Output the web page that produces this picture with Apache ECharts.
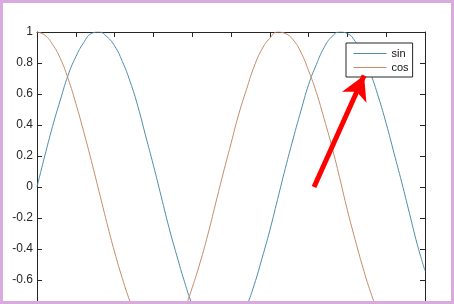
<!DOCTYPE html>
<html>
<head>
<meta charset="utf-8">
<script src="https://cdn.jsdelivr.net/npm/echarts@6/dist/echarts.min.js"></script>
<style>
html,body{margin:0;padding:0;background:#fff;}
#c{width:454px;height:304px;}
</style>
</head>
<body>
<div id="c"></div>
<script>
const xValues = [0,0.2,0.4,0.6,0.8,1,1.2,1.4,1.6,1.8,2,2.2,2.4,2.6,2.8,3,3.2,3.4,3.6,3.8,4,4.2,4.4,4.6,4.8,5,5.2,5.4,5.6,5.8,6,6.2,6.4,6.6,6.8,7,7.2,7.4,7.6,7.8,8,8.2,8.4,8.6,8.8,9,9.2,9.4,9.6,9.8,10];
const sinValues = [0,0.20,0.39,0.56,0.72,0.84,0.93,0.99,1.00,0.97,0.91,0.81,0.68,0.52,0.33,0.14,-0.06,-0.26,-0.44,-0.61,-0.76,-0.87,-0.95,-0.99,-1.00,-0.96,-0.88,-0.77,-0.63,-0.46,-0.28,-0.08,0.12,0.31,0.49,0.66,0.79,0.90,0.97,1.00,0.99,0.94,0.85,0.73,0.58,0.41,0.22,0.03,-0.17,-0.37,-0.54];
const cosValues = [1.00,0.98,0.92,0.83,0.70,0.54,0.36,0.17,-0.03,-0.23,-0.42,-0.59,-0.74,-0.86,-0.94,-0.99,-1.00,-0.97,-0.90,-0.79,-0.65,-0.49,-0.31,-0.11,0.09,0.28,0.47,0.63,0.78,0.89,0.96,1.00,0.99,0.95,0.87,0.75,0.61,0.44,0.26,0.06,-0.15,-0.34,-0.52,-0.68,-0.81,-0.91,-0.97,-1.00,-0.98,-0.93,-0.84];
const seriesNames = ['sin','cos'];
const arrowFrom = [7.14, 0.0];
const arrowTo = [8.43, 0.72];

const axisColor = '#262626';
const font = 'Liberation Sans, Arial, sans-serif';
const pair = ys => xValues.map((x,i)=>[x, ys[i]]);

const chart = echarts.init(document.getElementById('c'), null, {renderer:'canvas'});
chart.setOption({
  animation:false,
  backgroundColor:'#fff',
  grid:{left:37, top:32, width:388, height:310, show:false, outerBoundsMode:'none', containLabel:false},
  legend:{
    orient:'vertical', left:346, top:43,
    backgroundColor:'#fff', borderColor:axisColor, borderWidth:1, borderRadius:0,
    padding:[5,4,4,7], itemGap:3, itemWidth:33, itemHeight:12,
    itemStyle:{opacity:0},
    lineStyle:{width:1},
    textStyle:{fontSize:11, color:'#111', fontFamily:font},
    data:seriesNames
  },
  xAxis:[
    {type:'value', min:0, max:10, interval:1, position:'bottom',
     axisLine:{onZero:false, lineStyle:{color:axisColor}}, axisTick:{inside:true,length:5,lineStyle:{color:axisColor}},
     axisLabel:{show:false}, splitLine:{show:false}},
    {type:'value', min:0, max:10, interval:1, position:'top',
     axisLine:{onZero:false, lineStyle:{color:axisColor}}, axisTick:{inside:true,length:5,lineStyle:{color:axisColor}},
     axisLabel:{show:false}, splitLine:{show:false}}
  ],
  yAxis:[
    {type:'value', min:-1, max:1, interval:0.2, position:'left',
     axisLine:{show:true,onZero:false,lineStyle:{color:axisColor}}, axisTick:{show:true,inside:true,length:5,lineStyle:{color:axisColor}},
     axisLabel:{fontSize:12, color:axisColor, fontFamily:font, margin:4,
       formatter:v=>String(Math.round(v*10)/10)},
     splitLine:{show:false}},
    {type:'value', min:-1, max:1, interval:0.2, position:'right',
     axisLine:{show:true,onZero:false,lineStyle:{color:axisColor}}, axisTick:{show:true,inside:true,length:5,lineStyle:{color:axisColor}},
     axisLabel:{show:false}, splitLine:{show:false}}
  ],
  series:[
    {name:seriesNames[0], type:'line', data:pair(sinValues), symbol:'none', smooth:true,
     color:'#4f8cac', lineStyle:{width:1}},
    {name:seriesNames[1], type:'line', data:pair(cosValues), symbol:'none', smooth:true,
     color:'#c48c68', lineStyle:{width:1},
     markLine:{silent:true, symbol:['none','arrow'], symbolSize:[20,24],
       label:{show:false},
       lineStyle:{color:'#ff0000', width:5, type:'solid'},
       data:[[{coord:arrowFrom},{coord:arrowTo}]]}}
  ],
  graphic:[
    {type:'rect', z:100, silent:true, shape:{x:1.5,y:1.5,width:451,height:301},
     style:{fill:null, stroke:'#d9aade', lineWidth:3}}
  ]
});
</script>
</body>
</html>
